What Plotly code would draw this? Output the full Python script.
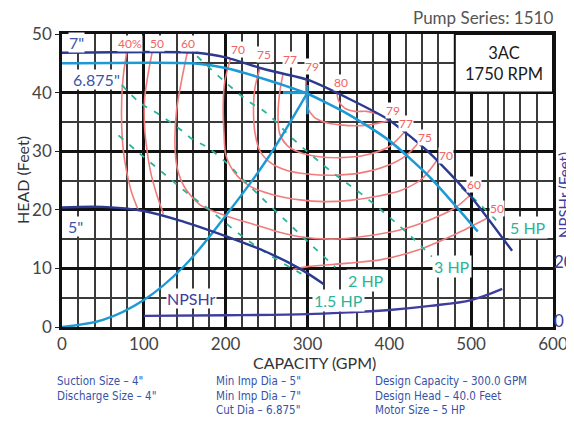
import plotly.graph_objects as go

# impeller head curves (GPM, feet)
cap_7in = [0, 165, 200, 250, 300, 350, 400, 450, 500, 550]
head_7in = [46.8, 46.8, 46.0, 43.9, 42.2, 39.0, 35.3, 29.6, 22.2, 13.0]
cap_6875in = [0, 160, 200, 250, 300, 350, 400, 450, 508]
head_6875in = [45.0, 45.0, 44.2, 42.2, 39.8, 36.3, 31.8, 25.5, 16.3]
cap_5in = [0, 50, 100, 150, 200, 250, 290, 320]
head_5in = [20.4, 20.5, 19.8, 17.9, 15.5, 12.8, 10.0, 7.3]

# system curve to design point
cap_system = [0, 50, 100, 150, 200, 250, 300]
head_system = [0, 1.2, 4.6, 10.5, 19.0, 28.5, 40.0]
design_cap = 300
design_head = 40

# NPSHr (right axis)
cap_npshr = [100, 200, 300, 350, 400, 450, 500, 538]
npshr_ft = [1.8, 2.0, 2.4, 3.0, 3.8, 5.2, 7.2, 11.0]

# efficiency contours
eff40_cap = [79, 75, 73, 73, 75, 79, 85, 93]
eff40_head = [46.8, 43, 39, 34, 30, 26.5, 23, 20]
eff50a_cap = [110, 105, 101, 101, 104, 109, 116, 124]
eff50a_head = [46.8, 43, 39, 34, 30, 26, 22.5, 19.3]
eff50b_cap = [282, 300, 350, 390, 434, 480, 520]
eff50b_head = [9.8, 10.3, 10.9, 11.5, 13.1, 15.8, 18.6]
eff60_cap = [153, 146, 140, 138, 141, 150, 169, 200, 230, 260, 291, 330, 370, 414, 450, 480, 498]
eff60_head = [46.8, 42, 37, 31, 27, 23.8, 20.8, 19, 17.7, 16.4, 15.4, 15, 15.5, 16.6, 18.3, 20.3, 22.4]
eff70_cap = [206, 199, 197, 198, 200, 210, 230, 260, 291, 320, 352, 385, 414, 440, 458]
eff70_head = [45.8, 42, 38, 33, 29.5, 26.5, 24, 22.5, 21.7, 21.4, 21.6, 22.3, 23.3, 25.3, 28.4]
eff75_cap = [242, 236, 234, 236, 242, 255, 275, 300, 332, 365, 397, 420, 435]
eff75_head = [44.2, 41, 37, 33, 30, 28, 26.7, 26.1, 25.9, 26.3, 27.5, 29.2, 31.3]
eff77_cap = [270, 266, 264, 266, 275, 290, 312, 340, 370, 400, 418]
eff77_head = [43.1, 40, 36, 33, 31, 29.8, 29.1, 28.9, 29.3, 30.8, 33.2]
eff79_cap = [298, 298, 300, 308, 320, 340, 370, 390, 400]
eff79_head = [42.3, 40, 37.5, 35.8, 35, 34.5, 34.4, 34.9, 35.3]
eff80_cap = [336, 338, 345, 358, 372, 385]
eff80_head = [39.9, 38.6, 37.4, 36.8, 36.8, 36.4]

# motor power lines
hp15_cap = [69, 95, 120, 150, 181, 222, 258, 291, 302]
hp15_head = [32.7, 29.6, 26.7, 23.2, 19.9, 15.3, 11.9, 9.2, 8.4]
hp2_cap = [73, 95, 116, 141, 160, 177, 202, 218, 240, 267, 300, 334]
hp2_head = [41.3, 38.3, 36.5, 34.1, 32, 30.7, 27.9, 25.6, 22.6, 19, 14.6, 10.2]
hp3_cap = [165, 197, 226, 250, 283, 332, 365, 398, 430, 452]
hp3_head = [46.2, 42.1, 38.7, 36.5, 32, 26.2, 22.8, 19, 15, 12]
hp5_cap = [488, 508, 534]
hp5_head = [23.8, 21.3, 17.7]

# labels
eff_top_labels = ["40%", "50", "60", "70", "75", "77", "79", "80"]
eff_top_cap = [83, 116, 154, 215, 247, 279, 305, 341]
eff_top_head = [48.3, 48.3, 48.3, 47.4, 46.5, 45.7, 44.5, 41.7]
eff_right_labels = ["79", "77", "75", "70", "60", "50"]
eff_right_cap = [405, 420, 443, 469, 504, 532]
eff_right_head = [37.0, 34.8, 32.4, 29.3, 24.4, 20.3]
hp_labels = ["1.5 HP", "2 HP", "3 HP", "5 HP"]
hp_label_cap = [338, 372, 477, 569]
hp_label_head = [4.6, 8.0, 10.4, 17.0]

spec_col1 = ['Suction Size – 4"', 'Discharge Size – 4"']
spec_col2 = ['Min Imp Dia – 5"', 'Min Imp Dia – 7"', 'Cut Dia – 6.875"']
spec_col3 = ["Design Capacity – 300.0 GPM", "Design Head – 40.0 Feet", "Motor Size – 5 HP"]

NAVY = "#2b3990"
CYAN = "#1b9ad6"
PURPLE = "#3f3d9e"
RED = "#f27c7c"
TEAL = "#2bb39a"
FONT = "Lato"

# the page body adds an 8px margin; plot box given in page pixels
OFF = 8
L, T, W, H = 62, 34, 491, 293
FIG_W, FIG_H = 574 - OFF, 426 - OFF


def px_x(p):
    return (p - L) / W


def px_y(p):
    return (T + H - p) / H


fig = go.Figure()

eff_sets = [(eff40_cap, eff40_head), (eff50a_cap, eff50a_head), (eff50b_cap, eff50b_head),
            (eff60_cap, eff60_head), (eff70_cap, eff70_head), (eff75_cap, eff75_head),
            (eff77_cap, eff77_head), (eff79_cap, eff79_head), (eff80_cap, eff80_head)]
for c, h in eff_sets:
    fig.add_trace(go.Scatter(x=c, y=h, mode="lines",
                             line=dict(color=RED, width=1.6, shape="spline", smoothing=0.8),
                             hoverinfo="skip"))

for c, h in [(hp15_cap, hp15_head), (hp2_cap, hp2_head), (hp3_cap, hp3_head), (hp5_cap, hp5_head)]:
    fig.add_trace(go.Scatter(x=c, y=h, mode="lines",
                             line=dict(color=TEAL, width=1.8, dash="6px,8px", shape="spline"),
                             hoverinfo="skip"))

fig.add_trace(go.Scatter(x=cap_system, y=head_system, mode="lines",
                         line=dict(color=CYAN, width=2.4, shape="spline")))
fig.add_trace(go.Scatter(x=cap_6875in, y=head_6875in, mode="lines",
                         line=dict(color=CYAN, width=2.6, shape="spline", smoothing=0.6)))
fig.add_trace(go.Scatter(x=cap_7in, y=head_7in, mode="lines",
                         line=dict(color=NAVY, width=2.4, shape="spline", smoothing=0.6)))
fig.add_trace(go.Scatter(x=cap_5in, y=head_5in, mode="lines",
                         line=dict(color=NAVY, width=2.4, shape="spline")))

# design point marker
fig.add_trace(go.Scatter(x=[design_cap - 30, design_cap], y=[design_head, design_head], mode="lines",
                         line=dict(color=CYAN, width=3)))
fig.add_trace(go.Scatter(x=[design_cap, design_cap], y=[design_head - 3.7, design_head + 1.3], mode="lines",
                         line=dict(color=CYAN, width=2.4)))

fig.add_trace(go.Scatter(x=cap_npshr, y=npshr_ft, mode="lines", yaxis="y2",
                         line=dict(color=PURPLE, width=2.4, shape="spline")))

annotations = []
for t, c, h in zip(eff_top_labels + eff_right_labels, eff_top_cap + eff_right_cap,
                   eff_top_head + eff_right_head):
    annotations.append(dict(x=c, y=h, text=t, showarrow=False, bgcolor="white", borderpad=0,
                            font=dict(family=FONT, size=12, color="#f06464")))
for t, c, h in zip(hp_labels, hp_label_cap, hp_label_head):
    annotations.append(dict(x=c, y=h, text=t, showarrow=False, bgcolor="white", borderpad=1,
                            font=dict(family=FONT, size=16, color=TEAL)))

for t, c, h in [('7"', 18, 48.6), ('6.875"', 42, 42.3), ('5"', 16, 17.2)]:
    annotations.append(dict(x=c, y=h, text=t, showarrow=False, bgcolor="white", borderpad=0,
                            font=dict(family=FONT, size=16, color="#3a55a8")))
annotations.append(dict(x=158, y=4.9, text="NPSHr", showarrow=False, bgcolor="white", borderpad=0,
                        font=dict(family=FONT, size=16, color=PURPLE)))
annotations.append(dict(x=540, y=45, text="3AC<br>1750 RPM", showarrow=False,
                        font=dict(family=FONT, size=16.5, color="#1a1a1a")))
annotations.append(dict(xref="paper", yref="paper", x=px_x(555), y=px_y(17),
                        xanchor="right", yanchor="middle",
                        text="Pump Series: 1510", showarrow=False,
                        font=dict(family=FONT, size=17, color="#555")))
annotations.append(dict(xref="paper", yref="paper", x=px_x(22), y=px_y(180), textangle=-90,
                        xanchor="center", yanchor="middle",
                        text="HEAD (Feet)", showarrow=False,
                        font=dict(family=FONT, size=16, color="#333")))
annotations.append(dict(xref="paper", yref="paper", x=px_x(314), y=px_y(362),
                        xanchor="center", yanchor="middle",
                        text="CAPACITY (GPM)", showarrow=False,
                        font=dict(family=FONT, size=16, color="#333")))
annotations.append(dict(xref="paper", yref="paper", x=px_x(564), y=px_y(195), textangle=-90,
                        xanchor="center", yanchor="middle",
                        text="NPSHr (Feet)", showarrow=False,
                        font=dict(family=FONT, size=15, color=PURPLE)))

row_y = [381, 395.5, 410]
for col, px in zip([spec_col1, spec_col2, spec_col3], [55, 214, 373]):
    for line, py in zip(col, row_y):
        annotations.append(dict(xref="paper", yref="paper", x=px_x(px), y=px_y(py),
                                xanchor="left", yanchor="middle",
                                text=line, showarrow=False,
                                font=dict(family="DejaVu Sans Condensed, DejaVu Sans", size=11.5,
                                          color="#3553a6")))

grid_major = dict(showgrid=True, gridcolor="#111", gridwidth=2.6)
fig.update_layout(
    width=FIG_W, height=FIG_H,
    margin=dict(l=L - OFF, r=FIG_W - (L - OFF) - W, t=T - OFF, b=FIG_H - (T - OFF) - H),
    plot_bgcolor="white", paper_bgcolor="white",
    showlegend=False,
    font=dict(family=FONT),
    xaxis=dict(range=[0, 600], tickvals=[0, 100, 200, 300, 400, 500, 600], **grid_major,
               minor=dict(dtick=20, showgrid=True, gridcolor="#3a3a3a", gridwidth=1.5),
               ticks="", automargin=False,
               tickfont=dict(size=17, color="#444"), zeroline=False,
               showline=True, linecolor="#111", linewidth=2.6, mirror=True),
    yaxis=dict(range=[0, 50], tickvals=[0, 10, 20, 30, 40, 50], **grid_major,
               minor=dict(dtick=5, showgrid=True, gridcolor="#3a3a3a", gridwidth=1.5),
               ticks="outside", ticklen=4, tickcolor="#222", automargin=False,
               tickfont=dict(size=17, color="#444"), zeroline=False,
               showline=True, linecolor="#111", linewidth=2.6, mirror=True),
    yaxis2=dict(overlaying="y", side="right", range=[-2, 98], tickvals=[0, 20],
                showgrid=False, zeroline=False, ticks="", automargin=False,
                tickfont=dict(size=17, color=PURPLE)),
    shapes=[dict(type="rect", xref="x", yref="y", x0=480, x1=600, y0=40, y1=50,
                 fillcolor="white", line=dict(color="#111", width=2), layer="above")],
    annotations=annotations,
)

fig.write_html("out.html")
